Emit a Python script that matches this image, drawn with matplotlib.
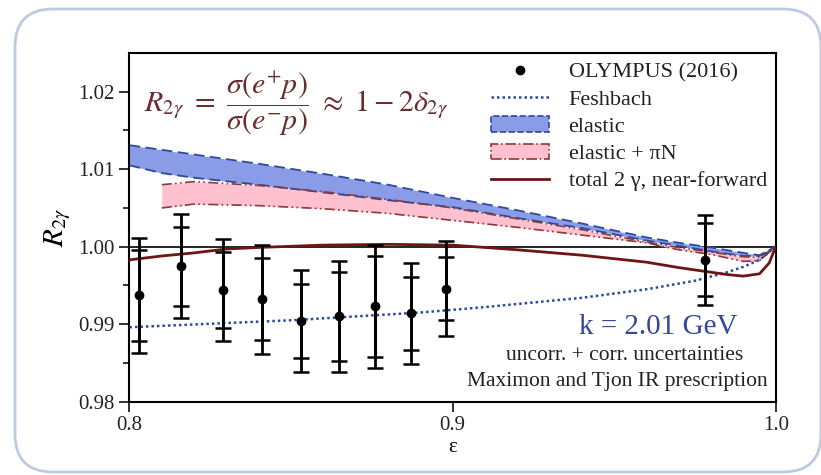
import matplotlib
matplotlib.use('Agg')
import matplotlib.pyplot as plt
from matplotlib.patches import FancyBboxPatch, Patch
from matplotlib.lines import Line2D

plt.rcParams['font.family'] = ['Liberation Serif', 'DejaVu Serif']
plt.rcParams['mathtext.fontset'] = 'stix'

# OLYMPUS (2016) points
eps_data = [0.803, 0.816, 0.829, 0.841, 0.853, 0.865, 0.876, 0.887, 0.898, 0.978]
r_data = [0.9937, 0.9975, 0.9944, 0.9932, 0.9904, 0.9910, 0.9923, 0.9914, 0.9946, 0.9983]
err_uncorr = [0.0059, 0.0051, 0.0049, 0.0053, 0.0048, 0.0057, 0.0065, 0.0047, 0.0041, 0.0047]
err_total = [0.0074, 0.0067, 0.0066, 0.0070, 0.0066, 0.0072, 0.0079, 0.0065, 0.0061, 0.0058]

# Feshbach
eps_fesh = [0.80, 0.85, 0.89, 0.91, 0.94, 0.96, 0.975, 0.985, 0.99, 0.995, 1.0]
r_fesh = [0.9896, 0.9905, 0.9915, 0.9922, 0.9934, 0.9945, 0.9956, 0.9967, 0.9974, 0.9983, 1.0]

# elastic band
eps_el = [0.80, 0.81, 0.82, 0.84, 0.86, 0.88, 0.90, 0.92, 0.94, 0.96, 0.97, 0.98, 0.99, 0.995, 1.0]
el_hi = [1.0131, 1.0125, 1.0119, 1.0107, 1.0094, 1.0080, 1.0063, 1.0047, 1.0030, 1.0012, 1.0005, 0.9999, 0.9992, 0.9989, 1.0]
el_lo = [1.0105, 1.0095, 1.0089, 1.0080, 1.0070, 1.0060, 1.0051, 1.0037, 1.0024, 1.0008, 1.0001, 0.9994, 0.9988, 0.9988, 1.0]

# elastic + piN band
eps_pi = [0.81, 0.82, 0.84, 0.86, 0.88, 0.90, 0.92, 0.94, 0.96, 0.97, 0.98, 0.99, 0.995, 1.0]
pi_hi = [1.0080, 1.0084, 1.0079, 1.0071, 1.0061, 1.0050, 1.0036, 1.0022, 1.0006, 0.9999, 0.9993, 0.9987, 0.9986, 1.0]
pi_lo = [1.0050, 1.0055, 1.0053, 1.0049, 1.0043, 1.0034, 1.0025, 1.0015, 1.0005, 0.9996, 0.9990, 0.9981, 0.9982, 1.0]

# total 2 gamma, near-forward
eps_tot = [0.80, 0.81, 0.82, 0.83, 0.84, 0.86, 0.88, 0.90, 0.92, 0.94, 0.96, 0.97, 0.98, 0.985, 0.99, 0.995, 0.998, 1.0]
r_tot = [0.9983, 0.9988, 0.9992, 0.9997, 0.9999, 1.0002, 1.0003, 1.0002, 0.9996, 0.9989, 0.9980, 0.9973, 0.9967, 0.9964, 0.9962, 0.9965, 0.9979, 1.0]

blue = '#2b4a9c'
blue_fill = '#8a9be8'
brown = '#8b3a3a'
pink_fill = '#ffc0d0'
dark_red = '#6e1616'
dash = (0, (6, 3))
dashdot = (0, (6, 2, 1, 2, 1, 2))
dotted = (0, (1, 1.2))

fig = plt.figure(figsize=(8.21, 4.75), dpi=100)

# rounded frame behind everything
bg = fig.add_axes([0, 0, 1, 1], zorder=-1)
bg.set_xlim(0, 821)
bg.set_ylim(0, 475)
bg.axis('off')
bg.add_patch(FancyBboxPatch((15, 3), 806, 463, boxstyle='round,pad=0,rounding_size=38',
                            fc='white', ec='#bccbe2', lw=2))

ax = fig.add_axes([0.1577, 0.1545, 0.7871, 0.7339])
ax.patch.set_alpha(0)

ax.axhline(1.0, color='black', lw=1.2, zorder=1)

ax.fill_between(eps_el, el_lo, el_hi, color=blue_fill, lw=0, zorder=2)
ax.plot(eps_el, el_hi, color=blue, ls=dash, lw=1.3, zorder=3)
ax.plot(eps_el, el_lo, color=blue, ls=dash, lw=1.3, zorder=3)

ax.fill_between(eps_pi, pi_lo, pi_hi, color=pink_fill, lw=0, zorder=2)
ax.plot(eps_pi, pi_hi, color=brown, ls=dashdot, lw=1.2, zorder=3)
ax.plot(eps_pi, pi_lo, color=brown, ls=dashdot, lw=1.2, zorder=3)

ax.plot(eps_fesh, r_fesh, color=blue, ls=dotted, lw=1.8, zorder=4)
ax.plot(eps_tot, r_tot, color=dark_red, lw=2, zorder=4)

ax.errorbar(eps_data, r_data, yerr=err_total, fmt='none', ecolor='black',
            elinewidth=2, capsize=6, capthick=1.8, zorder=5)
ax.errorbar(eps_data, r_data, yerr=err_uncorr, fmt='o', color='black', ms=6,
            ecolor='black', elinewidth=2, capsize=6, capthick=1.8, zorder=6)

ax.set_xlim(0.8, 1.0)
ax.set_ylim(0.98, 1.025)
ax.set_xticks([0.8, 0.9, 1.0])
ax.set_xticklabels(['0.8', '0.9', '1.0'])
ax.set_yticks([0.98, 0.99, 1.00, 1.01, 1.02])
ax.set_yticklabels(['0.98', '0.99', '1.00', '1.01', '1.02'])
ax.set_yticks([0.985, 0.995, 1.005, 1.015], minor=True)
ax.tick_params(axis='both', which='major', direction='out', length=7, width=1.3,
               labelsize=15, colors='#222222')
ax.tick_params(axis='y', which='minor', direction='out', length=4, width=1.1)
for s in ax.spines.values():
    s.set_linewidth(1.5)

ax.set_xlabel('ε', fontsize=15, labelpad=2)
ax.set_ylabel(r'$R_{2\gamma}$', fontsize=21, labelpad=4)

ax.text(0.022, 0.855,
        r'$R_{2\gamma}\ =\ \dfrac{\sigma(e^{+}p)}{\sigma(e^{-}p)}\ \approx\ 1 - 2\delta_{2\gamma}$',
        transform=ax.transAxes, fontsize=21.5, color='#6b2e2e', va='center', ha='left')
ax.text(0.818, 0.214, 'k = 2.01 GeV', transform=ax.transAxes, fontsize=21,
        color='#34479a', ha='center', va='center')
ax.text(0.767, 0.131, 'uncorr. + corr. uncertainties', transform=ax.transAxes,
        fontsize=15.5, ha='center', va='center', color='#222222')
ax.text(0.988, 0.059, 'Maximon and Tjon IR prescription', transform=ax.transAxes,
        fontsize=15.5, ha='right', va='center', color='#222222')

handles = [
    Line2D([], [], ls='none', marker='o', color='black', ms=6),
    Line2D([], [], color=blue, ls=dotted, lw=1.8),
    Patch(fc=blue_fill, ec=blue, ls='--', lw=1.2),
    Patch(fc=pink_fill, ec=brown, ls='-.', lw=1.2),
    Line2D([], [], color=dark_red, lw=2),
]
labels = ['OLYMPUS (2016)', 'Feshbach', 'elastic', 'elastic + πN', 'total 2 γ, near-forward']
leg = ax.legend(handles, labels, loc='upper right', frameon=False, fontsize=16,
                handlelength=2.6, labelspacing=0.3, borderaxespad=0.1, borderpad=0.3,
                handletextpad=0.9)
for t in leg.get_texts():
    t.set_color('#222222')

fig.savefig('out.png', dpi=100)
